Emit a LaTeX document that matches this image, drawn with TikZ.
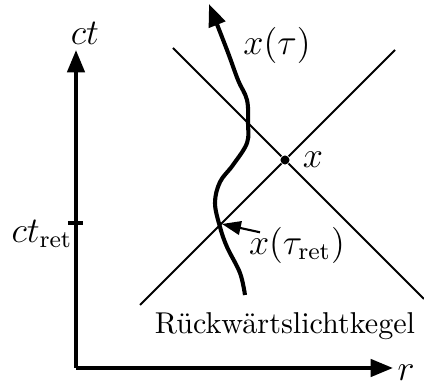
\documentclass[tikz,border=0pt]{standalone}
\usetikzlibrary{arrows.meta}
\begin{document}
\begin{tikzpicture}[
    x=0.1166mm,y=0.1166mm,
    every node/.style={font=\large},
    axis/.style={-{Triangle[length=2.6mm,width=2mm]},line width=1.3pt},
    cone/.style={line width=0.6pt},
    worldline/.style={-{Triangle[length=2.6mm,width=2mm]},line width=1.35pt},
    pointer/.style={-{Triangle[length=2.2mm,width=1.6mm]},line width=0.7pt},
    event/.style={circle,fill,inner sep=0pt,minimum size=3pt}
]
\useasboundingbox (0,0) rectangle (424,390);
\coordinate (origin) at (76,22);
\coordinate (ttip) at (76,340);
\coordinate (rtip) at (393,22);
\coordinate (tickl) at (68,167);
\coordinate (tickr) at (83,167);
\coordinate (ret) at (222,166);
\node[event] (x0) at (285,230) {};
\coordinate (coneA) at (140,85);
\coordinate (coneB) at (395,340);
\coordinate (coneC) at (173,342);
\coordinate (coneD) at (424,91);
\node (ctlabel) at (85,357) {$ct$};
\node (rlabel) at (406,17) {$r$};
\node (tretlabel) at (42,156) {$ct_{\mathrm{ret}}$};
\node (xlabel) at (313,230) {$x$};
\node (taulabel) at (277,345) {$x(\tau)$};
\node[inner sep=1pt] (retlabel) at (297,145) {$x(\tau_{\mathrm{ret}})$};
\node[font=\normalsize] (conelabel) at (285,64) {R\"uckw\"artslichtkegel};
\draw[cone] (coneA) -- (x0) -- (coneB);
\draw[cone] (coneC) -- (x0) -- (coneD);
\draw[axis] (origin) -- (ttip);
\draw[axis] (origin) -- (rtip);
\draw[line width=1.3pt] (tickl) -- (tickr);
\draw[worldline] plot[smooth,tension=0.6] coordinates {(245,95) (240,117) (227,143) (220,163) (215,187) (220,208) (233,225) (247,247) (248,267) (247,290) (238,310) (227,340) (209,386)};
\draw[pointer] ([xshift=1.7mm,yshift=-1.05mm]retlabel.north west) -- (ret);
\end{tikzpicture}
\end{document}
